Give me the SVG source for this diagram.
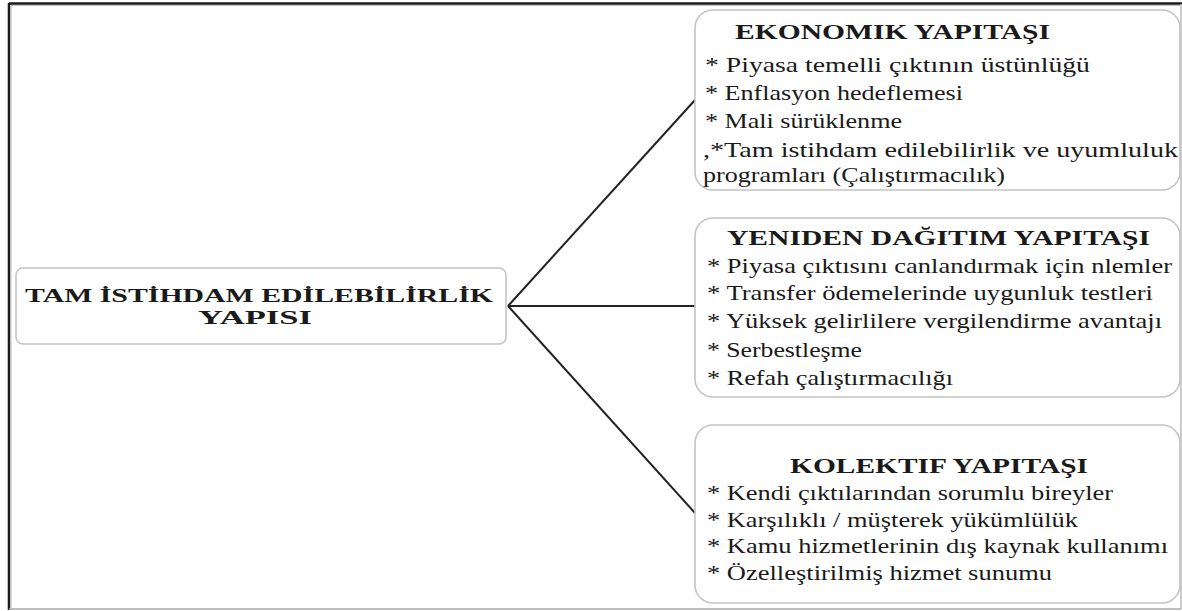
<svg xmlns="http://www.w3.org/2000/svg" width="1182" height="611" viewBox="0 0 1182 611">
<style>
.box{fill:#fff;stroke:#c4c4c4;stroke-width:1.6}
.t{font-family:'Liberation Serif','Times New Roman','DejaVu Serif',serif;fill:#1a1a1a}
.h{font-weight:bold;font-size:21px}
.b{font-size:21px}
.m{font-weight:bold;font-size:19px}
.c{stroke:#222;stroke-width:2;fill:none}
</style>
<rect x="0" y="0" width="1182" height="611" fill="#fff"/>
<g id="frame">
<line x1="9" y1="3.5" x2="1182" y2="3.5" stroke="#1a1a1a" stroke-width="2.5"/>
<line x1="9" y1="3" x2="9" y2="610" stroke="#1a1a1a" stroke-width="2.5"/>
<line x1="11" y1="5.5" x2="1180" y2="5.5" stroke="#bbb" stroke-width="1"/>
<line x1="11" y1="5" x2="11" y2="608" stroke="#bbb" stroke-width="1"/>
<line x1="1181" y1="4" x2="1181" y2="609" stroke="#bbb" stroke-width="1.5"/>
<line x1="9" y1="609" x2="1181" y2="609" stroke="#aaa" stroke-width="1.5"/>
</g>
<g id="connectors">
<line class="c" x1="508" y1="306" x2="695" y2="100"/>
<line class="c" x1="508" y1="306" x2="695" y2="306"/>
<line class="c" x1="508" y1="306" x2="695" y2="513"/>
</g>
<g id="main">
<rect class="box" x="16" y="268" width="490" height="76" rx="7"/>
<text class="t m" x="25" y="302" textLength="468" lengthAdjust="spacingAndGlyphs">TAM İSTİHDAM EDİLEBİLİRLİK</text>
<text class="t m" x="198" y="324" textLength="114" lengthAdjust="spacingAndGlyphs">YAPISI</text>
</g>
<g id="ekonomik">
<rect class="box" x="695" y="10" width="485" height="180" rx="18"/>
<text class="t h" x="735" y="39" textLength="315" lengthAdjust="spacingAndGlyphs">EKONOMIK YAPITAŞI</text>
<text class="t b" x="705" y="72" textLength="385" lengthAdjust="spacingAndGlyphs">* Piyasa temelli çıktının üstünlüğü</text>
<text class="t b" x="705" y="100" textLength="258" lengthAdjust="spacingAndGlyphs">* Enflasyon hedeflemesi</text>
<text class="t b" x="705" y="128" textLength="197" lengthAdjust="spacingAndGlyphs">* Mali sürüklenme</text>
<text class="t b" x="703" y="157" textLength="475" lengthAdjust="spacingAndGlyphs">,*Tam istihdam edilebilirlik ve uyumluluk</text>
<text class="t b" x="703" y="182" textLength="302" lengthAdjust="spacingAndGlyphs">programları (Çalıştırmacılık)</text>
</g>
<g id="yeniden">
<rect class="box" x="695" y="218" width="485" height="179" rx="18"/>
<text class="t h" x="727" y="245" textLength="423" lengthAdjust="spacingAndGlyphs">YENIDEN DAĞITIM YAPITAŞI</text>
<text class="t b" x="707" y="273" textLength="465" lengthAdjust="spacingAndGlyphs">* Piyasa çıktısını canlandırmak için nlemler</text>
<text class="t b" x="707" y="300" textLength="446" lengthAdjust="spacingAndGlyphs">* Transfer ödemelerinde uygunluk testleri</text>
<text class="t b" x="707" y="328" textLength="455" lengthAdjust="spacingAndGlyphs">* Yüksek gelirlilere vergilendirme avantajı</text>
<text class="t b" x="707" y="357" textLength="155" lengthAdjust="spacingAndGlyphs">* Serbestleşme</text>
<text class="t b" x="707" y="385" textLength="246" lengthAdjust="spacingAndGlyphs">* Refah çalıştırmacılığı</text>
</g>
<g id="kolektif">
<rect class="box" x="695" y="425" width="485" height="178" rx="18"/>
<text class="t h" x="790" y="473" textLength="298" lengthAdjust="spacingAndGlyphs">KOLEKTIF YAPITAŞI</text>
<text class="t b" x="707" y="500" textLength="406" lengthAdjust="spacingAndGlyphs">* Kendi çıktılarından sorumlu bireyler</text>
<text class="t b" x="707" y="527" textLength="371" lengthAdjust="spacingAndGlyphs">* Karşılıklı / müşterek yükümlülük</text>
<text class="t b" x="707" y="553" textLength="461" lengthAdjust="spacingAndGlyphs">* Kamu hizmetlerinin dış kaynak kullanımı</text>
<text class="t b" x="707" y="580" textLength="345" lengthAdjust="spacingAndGlyphs">* Özelleştirilmiş hizmet sunumu</text>
</g>
</svg>
